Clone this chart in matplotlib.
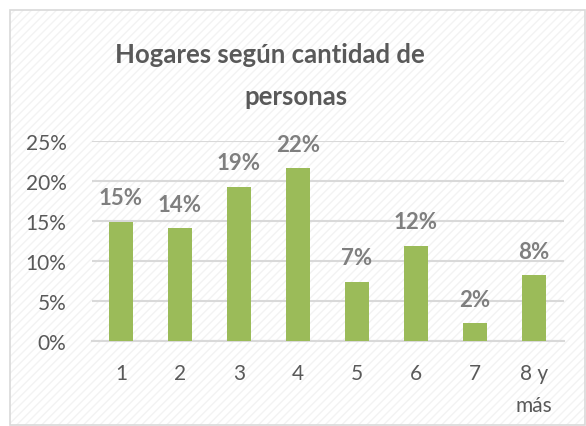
import matplotlib.pyplot as plt
from matplotlib.patches import Rectangle
from matplotlib.ticker import FuncFormatter

categorias = ["1", "2", "3", "4", "5", "6", "7", "8 y\nmás"]
valores = [14.9, 14.1, 19.3, 21.6, 7.4, 11.9, 2.2, 8.2]
etiquetas = ["15%", "14%", "19%", "22%", "7%", "12%", "2%", "8%"]

plt.rcParams['font.family'] = ['Lato', 'DejaVu Sans']

fig = plt.figure(figsize=(5.86, 4.27), dpi=100)
W, H = 586, 427

# fondo del gráfico con rayado suave y borde
rayado = Rectangle((10 / W, 1 / H), 575 / W, 415 / H, transform=fig.transFigure,
                   facecolor='white', edgecolor='#f3f3f3', linewidth=0,
                   hatch='////', zorder=-2)
borde = Rectangle((10 / W, 1 / H), 575 / W, 415 / H, transform=fig.transFigure,
                  facecolor='none', edgecolor='#d9d9d9', linewidth=1.2, zorder=-1)
fig.patches.extend([rayado, borde])

ax = fig.add_axes([91.5 / W, (H - 342) / H, 472 / W, 200 / H])
ax.patch.set_alpha(0)

x = range(len(categorias))
ax.bar(x, valores, width=0.39, color='#9BBB59', zorder=3)
for i, (v, t) in enumerate(zip(valores, etiquetas)):
    ax.text(i, v + 3.0, t, ha='center', va='center', fontsize=16,
            fontweight='bold', color='#7f7f7f', zorder=4)

ax.set_xlim(-0.5, len(categorias) - 0.5)
ax.set_ylim(0, 25)
ax.set_yticks([0, 5, 10, 15, 20, 25])
ax.yaxis.set_major_formatter(FuncFormatter(lambda v, p: f"{v:.0f}%"))
ax.set_xticks(list(x))
ax.set_xticklabels(categorias, linespacing=1.75)
ax.tick_params(axis='both', length=0, labelsize=15, labelcolor='#595959')
ax.tick_params(axis='y', pad=18)
ax.tick_params(axis='x', pad=16)

ax.grid(axis='y', color='#d9d9d9', linewidth=1.5, zorder=1)
for s in ['top', 'right', 'left']:
    ax.spines[s].set_visible(False)
ax.spines['bottom'].set_color('#d9d9d9')
ax.spines['bottom'].set_linewidth(1.5)

fig.text(270 / W, 1 - 55 / H, "Hogares según cantidad de", ha='center', va='center',
         fontsize=18.5, fontweight='bold', color='#595959')
fig.text(296 / W, 1 - 97 / H, "personas", ha='center', va='center',
         fontsize=18.5, fontweight='bold', color='#595959')

fig.savefig("out.png", dpi=100)
